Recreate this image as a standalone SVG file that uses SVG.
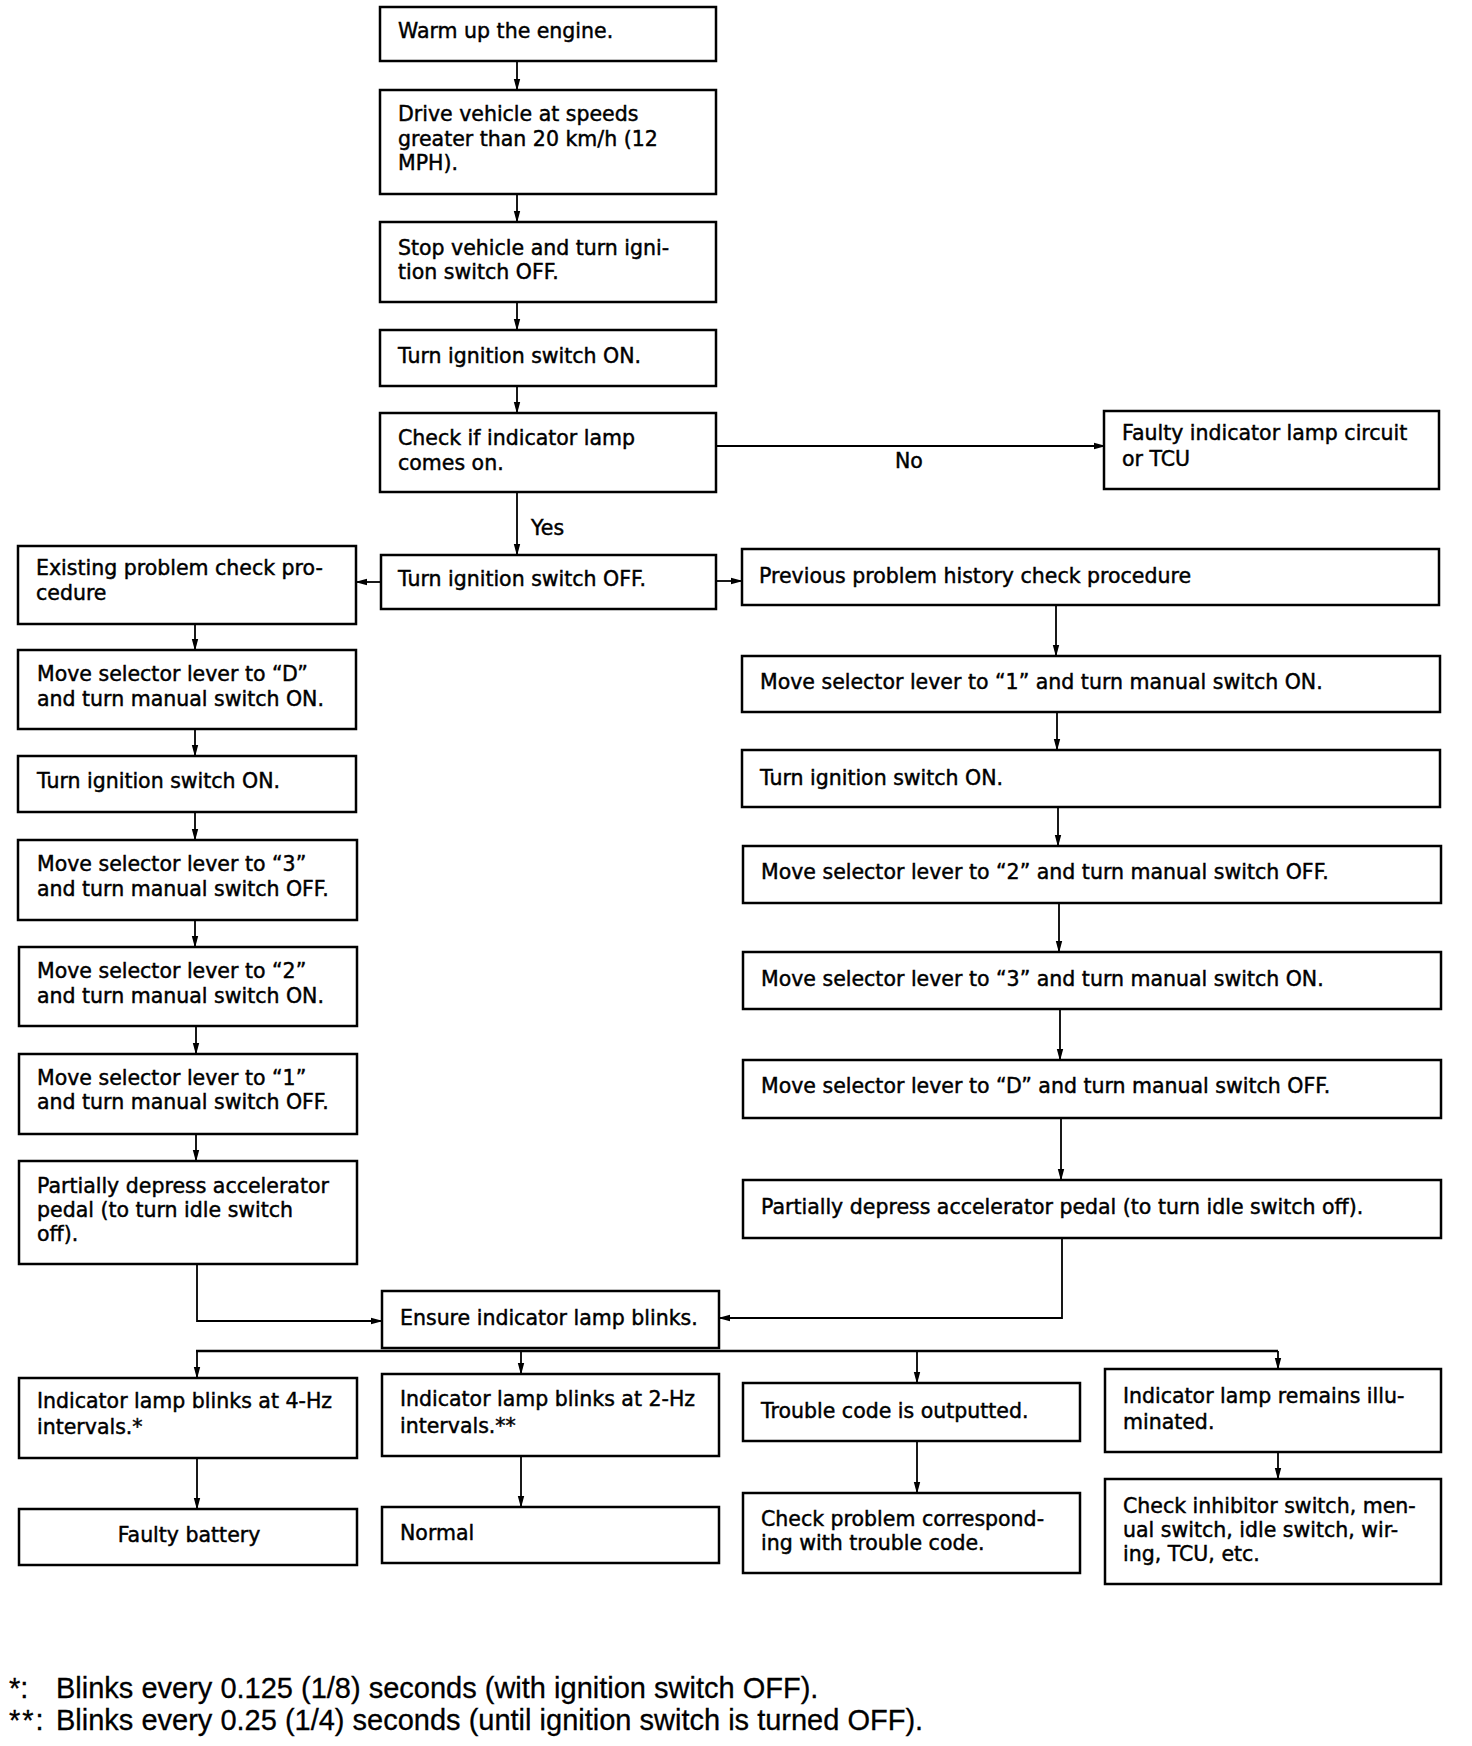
<svg xmlns="http://www.w3.org/2000/svg" width="1472" height="1746" viewBox="0 0 1472 1746">
<style>
.box{fill:#fff;stroke:#000;stroke-width:2.5}
.t{font-family:"DejaVu Sans","Liberation Sans",sans-serif;font-size:20.5px;fill:#000;stroke:#000;stroke-width:0.45}
.fn{font-family:"Liberation Sans",Arial,sans-serif;font-size:29px;fill:#000;stroke:#000;stroke-width:0.3}
.c{fill:none;stroke:#000;stroke-width:1.8}
.bus{fill:none;stroke:#000;stroke-width:2.6}
</style>
<defs>
<marker id="ah" markerUnits="userSpaceOnUse" markerWidth="12" markerHeight="8" refX="11" refY="4" orient="auto">
<path d="M0,0.8 L12,4 L0,7.2 Z" fill="#000"/>
</marker>
</defs>
<rect width="1472" height="1746" fill="#fff"/>

<g id="connectors">
<path class="c" d="M517,61 V90" marker-end="url(#ah)"/>
<path class="c" d="M517,194 V222" marker-end="url(#ah)"/>
<path class="c" d="M517,302 V330" marker-end="url(#ah)"/>
<path class="c" d="M517,386 V413" marker-end="url(#ah)"/>
<path class="c" d="M716,446 H1105" marker-end="url(#ah)"/>
<path class="c" d="M517,492 V555" marker-end="url(#ah)"/>
<path class="c" d="M381,582 H356" marker-end="url(#ah)"/>
<path class="c" d="M716,581 H742" marker-end="url(#ah)"/>
<path class="c" d="M195,624 V650" marker-end="url(#ah)"/>
<path class="c" d="M195,729 V756" marker-end="url(#ah)"/>
<path class="c" d="M195,812 V840" marker-end="url(#ah)"/>
<path class="c" d="M195,920 V947" marker-end="url(#ah)"/>
<path class="c" d="M196,1026 V1054" marker-end="url(#ah)"/>
<path class="c" d="M196,1134 V1161" marker-end="url(#ah)"/>
<path class="c" d="M1056,605 V656" marker-end="url(#ah)"/>
<path class="c" d="M1057,712 V750" marker-end="url(#ah)"/>
<path class="c" d="M1058,807 V846" marker-end="url(#ah)"/>
<path class="c" d="M1059,903 V952" marker-end="url(#ah)"/>
<path class="c" d="M1060,1009 V1060" marker-end="url(#ah)"/>
<path class="c" d="M1061,1118 V1180" marker-end="url(#ah)"/>
<path class="c" d="M197,1264 V1321 H382" marker-end="url(#ah)"/>
<path class="c" d="M1062,1238 V1318 H719" marker-end="url(#ah)"/>
<path class="bus" d="M196,1351 H1278"/>
<path class="c" d="M197,1351 V1378" marker-end="url(#ah)"/>
<path class="c" d="M521,1351 V1374" marker-end="url(#ah)"/>
<path class="c" d="M917,1351 V1383" marker-end="url(#ah)"/>
<path class="c" d="M1278,1351 V1369" marker-end="url(#ah)"/>
<path class="c" d="M197,1458 V1509" marker-end="url(#ah)"/>
<path class="c" d="M521,1456 V1507" marker-end="url(#ah)"/>
<path class="c" d="M917,1441 V1493" marker-end="url(#ah)"/>
<path class="c" d="M1278,1452 V1479" marker-end="url(#ah)"/>
<text class="t" x="895" y="468">No</text>
<text class="t" x="531" y="535">Yes</text>
</g>

<g id="n1"><rect class="box" x="380" y="7" width="336" height="54"/><text class="t" x="398" y="38">Warm up the engine.</text></g>
<g id="n2"><rect class="box" x="380" y="90" width="336" height="104"/><text class="t" x="398" y="121">Drive vehicle at speeds</text><text class="t" x="398" y="146">greater than 20 km/h (12</text><text class="t" x="398" y="170">MPH).</text></g>
<g id="n3"><rect class="box" x="380" y="222" width="336" height="80"/><text class="t" x="398" y="255">Stop vehicle and turn igni-</text><text class="t" x="398" y="279">tion switch OFF.</text></g>
<g id="n4"><rect class="box" x="380" y="330" width="336" height="56"/><text class="t" x="398" y="363">Turn ignition switch ON.</text></g>
<g id="n5"><rect class="box" x="380" y="413" width="336" height="79"/><text class="t" x="398" y="445">Check if indicator lamp</text><text class="t" x="398" y="470">comes on.</text></g>
<g id="n6"><rect class="box" x="1104" y="411" width="335" height="78"/><text class="t" x="1122" y="440">Faulty indicator lamp circuit</text><text class="t" x="1122" y="466">or TCU</text></g>
<g id="n7"><rect class="box" x="381" y="555" width="335" height="54"/><text class="t" x="398" y="586">Turn ignition switch OFF.</text></g>
<g id="n8"><rect class="box" x="18" y="546" width="338" height="78"/><text class="t" x="36" y="575">Existing problem check pro-</text><text class="t" x="36" y="600">cedure</text></g>
<g id="n9"><rect class="box" x="742" y="549" width="697" height="56"/><text class="t" x="759" y="583">Previous problem history check procedure</text></g>

<g id="l1"><rect class="box" x="18" y="650" width="338" height="79"/><text class="t" x="37" y="681">Move selector lever to “D”</text><text class="t" x="37" y="706">and turn manual switch ON.</text></g>
<g id="l2"><rect class="box" x="18" y="756" width="338" height="56"/><text class="t" x="37" y="788">Turn ignition switch ON.</text></g>
<g id="l3"><rect class="box" x="18" y="840" width="339" height="80"/><text class="t" x="37" y="871">Move selector lever to “3”</text><text class="t" x="37" y="896">and turn manual switch OFF.</text></g>
<g id="l4"><rect class="box" x="19" y="947" width="338" height="79"/><text class="t" x="37" y="978">Move selector lever to “2”</text><text class="t" x="37" y="1003">and turn manual switch ON.</text></g>
<g id="l5"><rect class="box" x="19" y="1054" width="338" height="80"/><text class="t" x="37" y="1085">Move selector lever to “1”</text><text class="t" x="37" y="1109">and turn manual switch OFF.</text></g>
<g id="l6"><rect class="box" x="19" y="1161" width="338" height="103"/><text class="t" x="37" y="1193">Partially depress accelerator</text><text class="t" x="37" y="1217">pedal (to turn idle switch</text><text class="t" x="37" y="1241">off).</text></g>

<g id="r1"><rect class="box" x="742" y="656" width="698" height="56"/><text class="t" x="760" y="689">Move selector lever to “1” and turn manual switch ON.</text></g>
<g id="r2"><rect class="box" x="742" y="750" width="698" height="57"/><text class="t" x="760" y="785">Turn ignition switch ON.</text></g>
<g id="r3"><rect class="box" x="743" y="846" width="698" height="57"/><text class="t" x="761" y="879">Move selector lever to “2” and turn manual switch OFF.</text></g>
<g id="r4"><rect class="box" x="743" y="952" width="698" height="57"/><text class="t" x="761" y="986">Move selector lever to “3” and turn manual switch ON.</text></g>
<g id="r5"><rect class="box" x="743" y="1060" width="698" height="58"/><text class="t" x="761" y="1093">Move selector lever to “D” and turn manual switch OFF.</text></g>
<g id="r6"><rect class="box" x="743" y="1180" width="698" height="58"/><text class="t" x="761" y="1214">Partially depress accelerator pedal (to turn idle switch off).</text></g>

<g id="e1"><rect class="box" x="382" y="1291" width="337" height="57"/><text class="t" x="400" y="1325">Ensure indicator lamp blinks.</text></g>

<g id="b1"><rect class="box" x="19" y="1378" width="338" height="80"/><text class="t" x="37" y="1408">Indicator lamp blinks at 4-Hz</text><text class="t" x="37" y="1434">intervals.*</text></g>
<g id="b2"><rect class="box" x="382" y="1374" width="337" height="82"/><text class="t" x="400" y="1406">Indicator lamp blinks at 2-Hz</text><text class="t" x="400" y="1433">intervals.**</text></g>
<g id="b3"><rect class="box" x="743" y="1383" width="337" height="58"/><text class="t" x="761" y="1418">Trouble code is outputted.</text></g>
<g id="b4"><rect class="box" x="1105" y="1369" width="336" height="83"/><text class="t" x="1123" y="1403">Indicator lamp remains illu-</text><text class="t" x="1123" y="1429">minated.</text></g>

<g id="c1"><rect class="box" x="19" y="1509" width="338" height="56"/><text class="t" x="189" y="1542" text-anchor="middle">Faulty battery</text></g>
<g id="c2"><rect class="box" x="382" y="1507" width="337" height="56"/><text class="t" x="400" y="1540">Normal</text></g>
<g id="c3"><rect class="box" x="743" y="1493" width="337" height="80"/><text class="t" x="761" y="1526">Check problem correspond-</text><text class="t" x="761" y="1550">ing with trouble code.</text></g>
<g id="c4"><rect class="box" x="1105" y="1479" width="336" height="105"/><text class="t" x="1123" y="1513">Check inhibitor switch, men-</text><text class="t" x="1123" y="1537">ual switch, idle switch, wir-</text><text class="t" x="1123" y="1561">ing, TCU, etc.</text></g>

<g id="footnotes">
<text class="fn" x="9" y="1698">*:</text><text class="fn" x="56" y="1698">Blinks every 0.125 (1/8) seconds (with ignition switch OFF).</text>
<text class="fn" x="9" y="1730" letter-spacing="2">**:</text><text class="fn" x="56" y="1730">Blinks every 0.25 (1/4) seconds (until ignition switch is turned OFF).</text>
</g>
</svg>
